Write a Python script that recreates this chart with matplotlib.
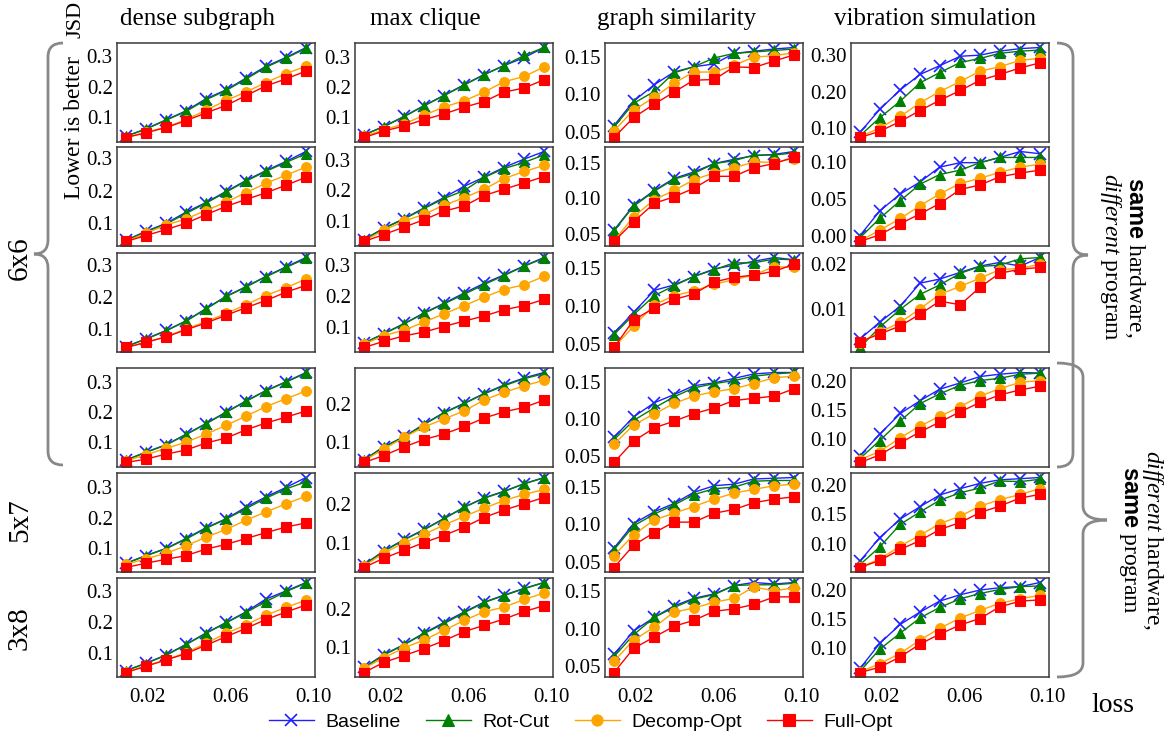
import matplotlib
matplotlib.use('Agg')
import matplotlib.pyplot as plt
from matplotlib.ticker import MultipleLocator, FormatStrFormatter
from matplotlib.path import Path
from matplotlib.patches import PathPatch
from matplotlib.lines import Line2D

plt.rcParams['font.family'] = 'Liberation Serif'
plt.rcParams['mathtext.fontset'] = 'custom'
plt.rcParams['mathtext.rm'] = 'Liberation Serif'
plt.rcParams['mathtext.it'] = 'Liberation Serif:italic'
plt.rcParams['mathtext.bf'] = 'Liberation Sans:bold'

# loss values on the x axis
loss = [0.0095, 0.019, 0.029, 0.0385, 0.048, 0.058, 0.0675, 0.077, 0.087, 0.0965]

methods = ['Baseline', 'Rot-Cut', 'Decomp-Opt', 'Full-Opt']
colors = ['#1f1fff', 'green', 'orange', 'red']
markers = ['x', '^', 'o', 's']

titles = ['dense subgraph', 'max clique', 'graph similarity', 'vibration simulation']

# JSD values, one list per row/column/method
# ---- dense subgraph
ds1_base = [0.038, 0.062, 0.092, 0.121, 0.160, 0.190, 0.228, 0.266, 0.296, 0.328]
ds1_rot = [0.038, 0.061, 0.091, 0.119, 0.157, 0.188, 0.225, 0.263, 0.294, 0.325]
ds1_dec = [0.034, 0.051, 0.068, 0.092, 0.123, 0.155, 0.183, 0.213, 0.243, 0.267]
ds1_full = [0.034, 0.049, 0.067, 0.089, 0.114, 0.139, 0.171, 0.202, 0.226, 0.251]

ds2_base = [0.048, 0.075, 0.100, 0.134, 0.163, 0.198, 0.231, 0.261, 0.290, 0.320]
ds2_rot = [0.047, 0.073, 0.098, 0.130, 0.161, 0.196, 0.229, 0.259, 0.287, 0.313]
ds2_dec = [0.044, 0.069, 0.095, 0.113, 0.139, 0.165, 0.194, 0.222, 0.248, 0.272]
ds2_full = [0.044, 0.062, 0.081, 0.100, 0.126, 0.152, 0.173, 0.193, 0.217, 0.241]

ds3_base = [0.044, 0.068, 0.095, 0.125, 0.163, 0.203, 0.233, 0.265, 0.296, 0.325]
ds3_rot = [0.044, 0.067, 0.094, 0.124, 0.162, 0.202, 0.232, 0.264, 0.294, 0.322]
ds3_dec = [0.041, 0.057, 0.075, 0.100, 0.122, 0.149, 0.176, 0.205, 0.230, 0.257]
ds3_full = [0.041, 0.057, 0.075, 0.097, 0.118, 0.143, 0.167, 0.189, 0.216, 0.237]

ds4_base = [0.041, 0.067, 0.092, 0.126, 0.161, 0.200, 0.236, 0.270, 0.300, 0.330]
ds4_rot = [0.041, 0.066, 0.091, 0.125, 0.160, 0.199, 0.235, 0.269, 0.299, 0.328]
ds4_dec = [0.039, 0.058, 0.080, 0.100, 0.126, 0.156, 0.186, 0.217, 0.244, 0.269]
ds4_full = [0.033, 0.044, 0.061, 0.074, 0.097, 0.114, 0.141, 0.163, 0.183, 0.203]

ds5_base = [0.051, 0.076, 0.100, 0.132, 0.167, 0.197, 0.235, 0.268, 0.300, 0.332]
ds5_rot = [0.050, 0.075, 0.099, 0.130, 0.165, 0.196, 0.230, 0.264, 0.295, 0.318]
ds5_dec = [0.048, 0.065, 0.084, 0.108, 0.136, 0.162, 0.192, 0.219, 0.246, 0.271]
ds5_full = [0.037, 0.051, 0.064, 0.076, 0.097, 0.113, 0.132, 0.151, 0.170, 0.183]

ds6_base = [0.042, 0.066, 0.093, 0.127, 0.163, 0.198, 0.232, 0.273, 0.300, 0.327]
ds6_rot = [0.042, 0.065, 0.092, 0.126, 0.162, 0.197, 0.230, 0.265, 0.298, 0.325]
ds6_dec = [0.038, 0.056, 0.077, 0.100, 0.130, 0.163, 0.190, 0.221, 0.247, 0.270]
ds6_full = [0.036, 0.056, 0.077, 0.097, 0.124, 0.152, 0.179, 0.207, 0.232, 0.254]

# ---- max clique
mc1_base = [0.043, 0.070, 0.104, 0.139, 0.172, 0.208, 0.241, 0.270, 0.297, 0.330]
mc1_rot = [0.043, 0.069, 0.103, 0.138, 0.171, 0.207, 0.240, 0.270, 0.304, 0.330]
mc1_dec = [0.038, 0.059, 0.079, 0.107, 0.134, 0.155, 0.183, 0.217, 0.235, 0.266]
mc1_full = [0.034, 0.055, 0.072, 0.093, 0.111, 0.134, 0.152, 0.183, 0.197, 0.224]

mc2_base = [0.037, 0.075, 0.107, 0.142, 0.176, 0.214, 0.244, 0.276, 0.304, 0.329]
mc2_rot = [0.037, 0.074, 0.106, 0.140, 0.173, 0.200, 0.243, 0.272, 0.293, 0.318]
mc2_dec = [0.033, 0.068, 0.099, 0.121, 0.151, 0.176, 0.204, 0.239, 0.263, 0.283]
mc2_full = [0.031, 0.054, 0.079, 0.103, 0.131, 0.149, 0.183, 0.204, 0.225, 0.246]

mc3_base = [0.046, 0.077, 0.110, 0.144, 0.175, 0.209, 0.240, 0.267, 0.297, 0.324]
mc3_rot = [0.046, 0.076, 0.109, 0.143, 0.173, 0.205, 0.236, 0.265, 0.296, 0.322]
mc3_dec = [0.043, 0.070, 0.089, 0.114, 0.141, 0.168, 0.195, 0.220, 0.236, 0.263]
mc3_full = [0.032, 0.052, 0.070, 0.082, 0.100, 0.118, 0.134, 0.154, 0.168, 0.188]

mc4_base = [0.053, 0.087, 0.114, 0.146, 0.176, 0.201, 0.226, 0.248, 0.267, 0.281]
mc4_rot = [0.053, 0.086, 0.113, 0.145, 0.175, 0.200, 0.225, 0.246, 0.265, 0.278]
mc4_dec = [0.051, 0.081, 0.112, 0.139, 0.159, 0.181, 0.209, 0.229, 0.246, 0.261]
mc4_full = [0.046, 0.064, 0.087, 0.106, 0.120, 0.140, 0.162, 0.178, 0.190, 0.209]

mc5_base = [0.042, 0.078, 0.108, 0.134, 0.162, 0.192, 0.216, 0.233, 0.253, 0.269]
mc5_rot = [0.042, 0.077, 0.107, 0.133, 0.161, 0.192, 0.215, 0.232, 0.253, 0.268]
mc5_dec = [0.039, 0.072, 0.100, 0.121, 0.145, 0.168, 0.189, 0.209, 0.225, 0.238]
mc5_full = [0.035, 0.059, 0.080, 0.100, 0.118, 0.140, 0.165, 0.184, 0.201, 0.217]

mc6_base = [0.048, 0.081, 0.108, 0.137, 0.164, 0.192, 0.217, 0.235, 0.253, 0.268]
mc6_rot = [0.047, 0.080, 0.107, 0.136, 0.161, 0.190, 0.216, 0.234, 0.252, 0.268]
mc6_dec = [0.046, 0.073, 0.099, 0.119, 0.144, 0.170, 0.192, 0.204, 0.224, 0.241]
mc6_full = [0.035, 0.061, 0.079, 0.097, 0.117, 0.141, 0.157, 0.173, 0.193, 0.208]

# ---- graph similarity
gs1_base = [0.058, 0.091, 0.113, 0.130, 0.137, 0.141, 0.155, 0.158, 0.161, 0.163]
gs1_rot = [0.056, 0.088, 0.104, 0.129, 0.137, 0.149, 0.155, 0.157, 0.159, 0.161]
gs1_dec = [0.051, 0.079, 0.096, 0.115, 0.130, 0.130, 0.139, 0.150, 0.152, 0.156]
gs1_full = [0.042, 0.069, 0.087, 0.103, 0.119, 0.120, 0.137, 0.136, 0.145, 0.153]

gs2_base = [0.055, 0.090, 0.111, 0.128, 0.137, 0.149, 0.155, 0.160, 0.162, 0.166]
gs2_rot = [0.054, 0.089, 0.110, 0.127, 0.135, 0.149, 0.153, 0.161, 0.161, 0.164]
gs2_dec = [0.040, 0.074, 0.098, 0.111, 0.126, 0.136, 0.143, 0.151, 0.151, 0.156]
gs2_full = [0.039, 0.067, 0.093, 0.102, 0.114, 0.131, 0.131, 0.143, 0.149, 0.158]

gs3_base = [0.065, 0.092, 0.121, 0.128, 0.139, 0.149, 0.154, 0.159, 0.164, 0.161]
gs3_rot = [0.063, 0.089, 0.114, 0.127, 0.139, 0.148, 0.157, 0.157, 0.162, 0.161]
gs3_dec = [0.046, 0.074, 0.102, 0.114, 0.120, 0.129, 0.135, 0.141, 0.152, 0.151]
gs3_full = [0.046, 0.082, 0.098, 0.109, 0.116, 0.132, 0.138, 0.141, 0.146, 0.155]

gs4_base = [0.075, 0.103, 0.122, 0.133, 0.145, 0.149, 0.155, 0.161, 0.163, 0.163]
gs4_rot = [0.072, 0.098, 0.115, 0.130, 0.142, 0.148, 0.152, 0.158, 0.161, 0.163]
gs4_dec = [0.066, 0.092, 0.107, 0.121, 0.131, 0.137, 0.141, 0.148, 0.156, 0.158]
gs4_full = [0.041, 0.070, 0.088, 0.097, 0.107, 0.115, 0.125, 0.128, 0.131, 0.141]

gs5_base = [0.068, 0.101, 0.117, 0.128, 0.143, 0.152, 0.154, 0.161, 0.162, 0.163]
gs5_rot = [0.066, 0.098, 0.114, 0.126, 0.140, 0.148, 0.150, 0.158, 0.159, 0.159]
gs5_dec = [0.058, 0.086, 0.106, 0.115, 0.124, 0.134, 0.142, 0.147, 0.152, 0.154]
gs5_full = [0.042, 0.072, 0.089, 0.103, 0.103, 0.115, 0.120, 0.129, 0.134, 0.137]

gs6_base = [0.066, 0.097, 0.115, 0.130, 0.140, 0.146, 0.157, 0.161, 0.159, 0.161]
gs6_rot = [0.063, 0.092, 0.115, 0.128, 0.139, 0.145, 0.157, 0.158, 0.158, 0.160]
gs6_dec = [0.057, 0.085, 0.102, 0.122, 0.127, 0.135, 0.140, 0.155, 0.150, 0.154]
gs6_full = [0.042, 0.074, 0.089, 0.103, 0.111, 0.123, 0.126, 0.132, 0.142, 0.142]

# ---- vibration simulation
vs1_base = [0.088, 0.151, 0.205, 0.247, 0.271, 0.297, 0.300, 0.311, 0.318, 0.321]
vs1_rot = [0.079, 0.128, 0.174, 0.224, 0.252, 0.280, 0.291, 0.305, 0.311, 0.314]
vs1_dec = [0.076, 0.100, 0.132, 0.169, 0.200, 0.228, 0.256, 0.268, 0.286, 0.291]
vs1_full = [0.074, 0.091, 0.118, 0.148, 0.176, 0.203, 0.231, 0.247, 0.265, 0.279]

vs2_base = [0.001, 0.034, 0.057, 0.073, 0.093, 0.099, 0.099, 0.106, 0.114, 0.111]
vs2_rot = [-0.002, 0.024, 0.048, 0.070, 0.083, 0.089, 0.099, 0.106, 0.106, 0.106]
vs2_dec = [-0.006, 0.008, 0.024, 0.041, 0.057, 0.071, 0.078, 0.086, 0.093, 0.097]
vs2_full = [-0.007, 0.002, 0.017, 0.030, 0.044, 0.063, 0.069, 0.080, 0.085, 0.089]

vs3_base = [0.0034, 0.0071, 0.0107, 0.0158, 0.0167, 0.0182, 0.0196, 0.0204, 0.0196, 0.0215]
vs3_rot = [0.0015, 0.0060, 0.0100, 0.0133, 0.0154, 0.0180, 0.0195, 0.0198, 0.0212, 0.0215]
vs3_dec = [0.0025, 0.0049, 0.0071, 0.0101, 0.0133, 0.0151, 0.0169, 0.0188, 0.0191, 0.0200]
vs3_full = [0.0028, 0.0045, 0.0063, 0.0089, 0.0118, 0.0110, 0.0149, 0.0180, 0.0189, 0.0193]

vs4_base = [0.071, 0.108, 0.144, 0.166, 0.186, 0.197, 0.208, 0.212, 0.215, 0.214]
vs4_rot = [0.066, 0.097, 0.131, 0.161, 0.178, 0.193, 0.201, 0.205, 0.212, 0.214]
vs4_dec = [0.064, 0.078, 0.102, 0.122, 0.139, 0.156, 0.174, 0.187, 0.198, 0.201]
vs4_full = [0.059, 0.072, 0.093, 0.112, 0.129, 0.147, 0.163, 0.176, 0.185, 0.191]

vs5_base = [0.070, 0.110, 0.142, 0.163, 0.183, 0.194, 0.203, 0.209, 0.211, 0.213]
vs5_rot = [0.064, 0.094, 0.133, 0.154, 0.174, 0.187, 0.195, 0.207, 0.206, 0.210]
vs5_dec = [0.060, 0.073, 0.096, 0.114, 0.134, 0.147, 0.164, 0.175, 0.184, 0.194]
vs5_full = [0.059, 0.071, 0.090, 0.105, 0.124, 0.136, 0.153, 0.164, 0.178, 0.184]

vs6_base = [0.065, 0.108, 0.141, 0.162, 0.181, 0.192, 0.200, 0.204, 0.206, 0.213]
vs6_rot = [0.060, 0.098, 0.126, 0.152, 0.170, 0.185, 0.194, 0.201, 0.206, 0.207]
vs6_dec = [0.059, 0.073, 0.091, 0.114, 0.134, 0.152, 0.165, 0.177, 0.185, 0.191]
vs6_full = [0.058, 0.067, 0.085, 0.107, 0.124, 0.140, 0.151, 0.171, 0.181, 0.183]

grid = [
    [[ds1_base, ds1_rot, ds1_dec, ds1_full], [mc1_base, mc1_rot, mc1_dec, mc1_full],
     [gs1_base, gs1_rot, gs1_dec, gs1_full], [vs1_base, vs1_rot, vs1_dec, vs1_full]],
    [[ds2_base, ds2_rot, ds2_dec, ds2_full], [mc2_base, mc2_rot, mc2_dec, mc2_full],
     [gs2_base, gs2_rot, gs2_dec, gs2_full], [vs2_base, vs2_rot, vs2_dec, vs2_full]],
    [[ds3_base, ds3_rot, ds3_dec, ds3_full], [mc3_base, mc3_rot, mc3_dec, mc3_full],
     [gs3_base, gs3_rot, gs3_dec, gs3_full], [vs3_base, vs3_rot, vs3_dec, vs3_full]],
    [[ds4_base, ds4_rot, ds4_dec, ds4_full], [mc4_base, mc4_rot, mc4_dec, mc4_full],
     [gs4_base, gs4_rot, gs4_dec, gs4_full], [vs4_base, vs4_rot, vs4_dec, vs4_full]],
    [[ds5_base, ds5_rot, ds5_dec, ds5_full], [mc5_base, mc5_rot, mc5_dec, mc5_full],
     [gs5_base, gs5_rot, gs5_dec, gs5_full], [vs5_base, vs5_rot, vs5_dec, vs5_full]],
    [[ds6_base, ds6_rot, ds6_dec, ds6_full], [mc6_base, mc6_rot, mc6_dec, mc6_full],
     [gs6_base, gs6_rot, gs6_dec, gs6_full], [vs6_base, vs6_rot, vs6_dec, vs6_full]],
]

# tick step per panel
steps = [
    [0.1, 0.1, 0.05, 0.1],
    [0.1, 0.1, 0.05, 0.05],
    [0.1, 0.1, 0.05, 0.01],
    [0.1, 0.1, 0.05, 0.05],
    [0.1, 0.1, 0.05, 0.05],
    [0.1, 0.1, 0.05, 0.05],
]
fmts = ['%.1f', '%.1f', '%.2f', '%.2f']

W, H = 1167, 738
fig = plt.figure(figsize=(W / 100, H / 100), dpi=100)

col_left = [117, 355, 605, 851]
row_top = [43, 147, 253, 368, 473, 578]
aw, ah = 198, 99

for r in range(6):
    for c in range(4):
        ax = fig.add_axes([col_left[c] / W, 1 - (row_top[r] + ah) / H, aw / W, ah / H])
        for k in range(4):
            ax.plot(loss, grid[r][c][k], color=colors[k], marker=markers[k],
                    ms=8 if k == 0 else 7, mew=1.2 if k == 0 else 0.8,
                    lw=1.0)
        ax.yaxis.set_major_locator(MultipleLocator(steps[r][c]))
        ax.yaxis.set_major_formatter(FormatStrFormatter(fmts[c]))
        ax.set_xticks([0.02, 0.06, 0.10])
        ax.xaxis.set_major_formatter(FormatStrFormatter('%.2f'))
        ax.tick_params(length=0, labelsize=15, pad=3)
        if r < 5:
            ax.set_xticklabels([])
        else:
            ax.tick_params(axis='x', pad=8)
        for s in ax.spines.values():
            s.set_color('#3a3a3a')
            s.set_linewidth(1.1)

# overlay in pixel coordinates for labels and braces
ov = fig.add_axes([0, 0, 1, 1])
ov.set_xlim(0, W)
ov.set_ylim(H, 0)
ov.axis('off')

title_x = [197, 425, 677, 935]
for c in range(4):
    ov.text(title_x[c], 19, titles[c], fontsize=18, ha='center', va='center')

ov.text(76, 19, 'JSD', fontsize=16, rotation=90, ha='center', va='center')
ov.text(75, 128, 'Lower is better', fontsize=17, rotation=90, ha='center', va='center')
ov.text(20, 258, '6x6', fontsize=21, rotation=90, ha='center', va='center')
ov.text(20, 520, '5x7', fontsize=21, rotation=90, ha='center', va='center')
ov.text(20, 628, '3x8', fontsize=21, rotation=90, ha='center', va='center')
ov.text(1113, 706, 'loss', fontsize=20, ha='center', va='center')

ov.text(1135, 257, r'$\mathbf{same}$ hardware,', fontsize=17, rotation=-90, ha='center', va='center')
ov.text(1110, 257, r'$\mathit{different}$ program', fontsize=17, rotation=-90, ha='center', va='center')
ov.text(1153, 540, r'$\mathit{different}$ hardware,', fontsize=17, rotation=-90, ha='center', va='center')
ov.text(1128, 540, r'$\mathbf{same}$ program', fontsize=17, rotation=-90, ha='center', va='center')


def brace(x_hook, x_mid, x_tip, y0, y1, rad=14):
    ym = (y0 + y1) / 2
    verts = [(x_hook, y0), (x_mid, y0), (x_mid, y0 + rad),
             (x_mid, ym - rad), (x_mid, ym), (x_tip, ym),
             (x_mid, ym), (x_mid, ym + rad),
             (x_mid, y1 - rad), (x_mid, y1), (x_hook, y1)]
    codes = [Path.MOVETO, Path.CURVE3, Path.CURVE3,
             Path.LINETO, Path.CURVE3, Path.CURVE3,
             Path.CURVE3, Path.CURVE3,
             Path.LINETO, Path.CURVE3, Path.CURVE3]
    ov.add_patch(PathPatch(Path(verts, codes), fill=False, edgecolor='#888888', lw=2))


brace(63, 48, 34, 43, 465)
brace(1057, 1073, 1088, 43, 467)
brace(1057, 1083, 1107, 363, 677)

handles = [Line2D([], [], color=colors[k], marker=markers[k], ms=9 if k == 0 else 8,
                  mew=1.2 if k == 0 else 0.8, lw=1.0) for k in range(4)]
fig.legend(handles, methods, loc='center', bbox_to_anchor=(581 / W, 1 - 722 / H), ncol=4,
           frameon=False, prop={'family': 'Liberation Sans', 'size': 14},
           handlelength=2.3, columnspacing=1.3, handletextpad=0.6)

fig.savefig('out.png', dpi=100)
